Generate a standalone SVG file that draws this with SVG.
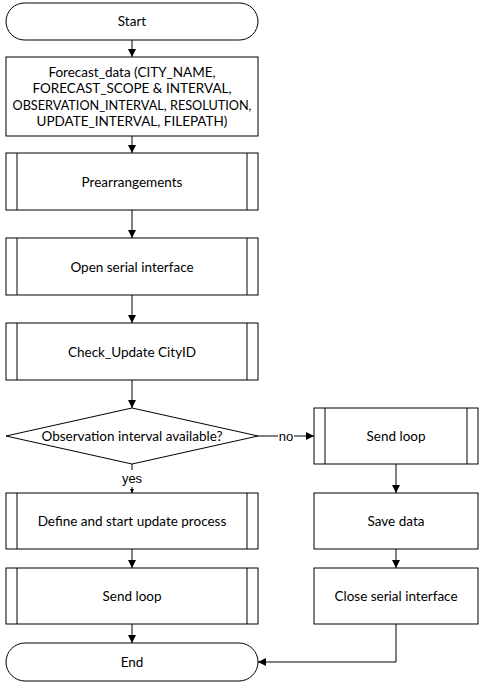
<svg xmlns="http://www.w3.org/2000/svg" width="484" height="689" viewBox="0 0 484 689">
<defs>
<marker id="arr" markerWidth="8" markerHeight="8" refX="8" refY="4" orient="auto" markerUnits="userSpaceOnUse">
<path d="M0,0 L8,4 L0,8 Z" fill="#000"/>
</marker>
<marker id="arrs" markerWidth="4" markerHeight="4" refX="4" refY="2" orient="auto" markerUnits="userSpaceOnUse">
<path d="M0,0 L4,2 L0,4 Z" fill="#000"/>
</marker>
<style>
.s{fill:#fff;stroke:#000;stroke-width:1}
.l{fill:none;stroke:#000;stroke-width:1}
.t{font-family:Lato,"Liberation Sans",sans-serif;font-size:13.5px;fill:#000;text-anchor:middle}
.lb{font-family:"Liberation Sans",Arial,sans-serif;font-size:13px;fill:#000;text-anchor:middle}
</style>
</defs>
<rect width="484" height="689" fill="#fff"/>
<g id="connectors">
<line class="l" x1="132" y1="40" x2="132" y2="57" marker-end="url(#arr)"/>
<line class="l" x1="132" y1="136" x2="132" y2="153" marker-end="url(#arr)"/>
<line class="l" x1="132" y1="210" x2="132" y2="238" marker-end="url(#arr)"/>
<line class="l" x1="132" y1="295" x2="132" y2="323" marker-end="url(#arr)"/>
<line class="l" x1="132" y1="380" x2="132" y2="408" marker-end="url(#arr)"/>
<line class="l" x1="258" y1="436" x2="278" y2="436"/>
<line class="l" x1="294" y1="436" x2="314" y2="436" marker-end="url(#arr)"/>
<text class="lb" x="286" y="441">no</text>
<line class="l" x1="132" y1="464" x2="132" y2="470"/>
<line class="l" x1="132" y1="487" x2="132" y2="493" marker-end="url(#arrs)"/>
<text class="lb" x="132" y="483">yes</text>
<line class="l" x1="396" y1="464" x2="396" y2="493" marker-end="url(#arr)"/>
<line class="l" x1="132" y1="549" x2="132" y2="568" marker-end="url(#arr)"/>
<line class="l" x1="396" y1="549" x2="396" y2="568" marker-end="url(#arr)"/>
<line class="l" x1="132" y1="624" x2="132" y2="643" marker-end="url(#arr)"/>
<polyline class="l" points="396,624 396,662 258,662" marker-end="url(#arr)"/>
</g>
<g id="start">
<rect class="s" x="6" y="3" width="252" height="37" rx="18.5" ry="18.5"/>
<text class="t" x="132" y="26">Start</text>
</g>
<g id="forecast">
<rect class="s" x="6" y="57" width="252" height="79"/>
<text class="t" x="132" y="76.5">Forecast_data (CITY_NAME,</text>
<text class="t" x="132" y="93">FORECAST_SCOPE &amp; INTERVAL,</text>
<text class="t" x="132" y="109.5" textLength="239" lengthAdjust="spacingAndGlyphs">OBSERVATION_INTERVAL, RESOLUTION,</text>
<text class="t" x="132" y="126">UPDATE_INTERVAL, FILEPATH)</text>
</g>
<g id="prearrangements">
<rect class="s" x="6" y="153" width="252" height="57"/>
<line class="l" x1="17" y1="153" x2="17" y2="210"/>
<line class="l" x1="247" y1="153" x2="247" y2="210"/>
<text class="t" x="132" y="186.5">Prearrangements</text>
</g>
<g id="open-serial">
<rect class="s" x="6" y="238" width="252" height="57"/>
<line class="l" x1="17" y1="238" x2="17" y2="295"/>
<line class="l" x1="247" y1="238" x2="247" y2="295"/>
<text class="t" x="132" y="271.5">Open serial interface</text>
</g>
<g id="check-update">
<rect class="s" x="6" y="323" width="252" height="57"/>
<line class="l" x1="17" y1="323" x2="17" y2="380"/>
<line class="l" x1="247" y1="323" x2="247" y2="380"/>
<text class="t" x="132" y="356.5">Check_Update CityID</text>
</g>
<g id="decision">
<polygon class="s" points="132,408 258,436 132,464 6,436"/>
<text class="t" x="132" y="440.5">Observation interval available?</text>
</g>
<g id="send-loop-right">
<rect class="s" x="314" y="408" width="164" height="56"/>
<line class="l" x1="325" y1="408" x2="325" y2="464"/>
<line class="l" x1="467" y1="408" x2="467" y2="464"/>
<text class="t" x="396" y="440.5">Send loop</text>
</g>
<g id="define-update">
<rect class="s" x="6" y="493" width="252" height="56"/>
<line class="l" x1="17" y1="493" x2="17" y2="549"/>
<line class="l" x1="247" y1="493" x2="247" y2="549"/>
<text class="t" x="132" y="525.5">Define and start update process</text>
</g>
<g id="save-data">
<rect class="s" x="314" y="493" width="164" height="56"/>
<text class="t" x="396" y="525.5">Save data</text>
</g>
<g id="send-loop-left">
<rect class="s" x="6" y="568" width="252" height="56"/>
<line class="l" x1="17" y1="568" x2="17" y2="624"/>
<line class="l" x1="247" y1="568" x2="247" y2="624"/>
<text class="t" x="132" y="600.5">Send loop</text>
</g>
<g id="close-serial">
<rect class="s" x="314" y="568" width="164" height="56"/>
<text class="t" x="396" y="600.5">Close serial interface</text>
</g>
<g id="end">
<rect class="s" x="6" y="643" width="252" height="38" rx="19" ry="19"/>
<text class="t" x="132" y="666.5">End</text>
</g>
</svg>
